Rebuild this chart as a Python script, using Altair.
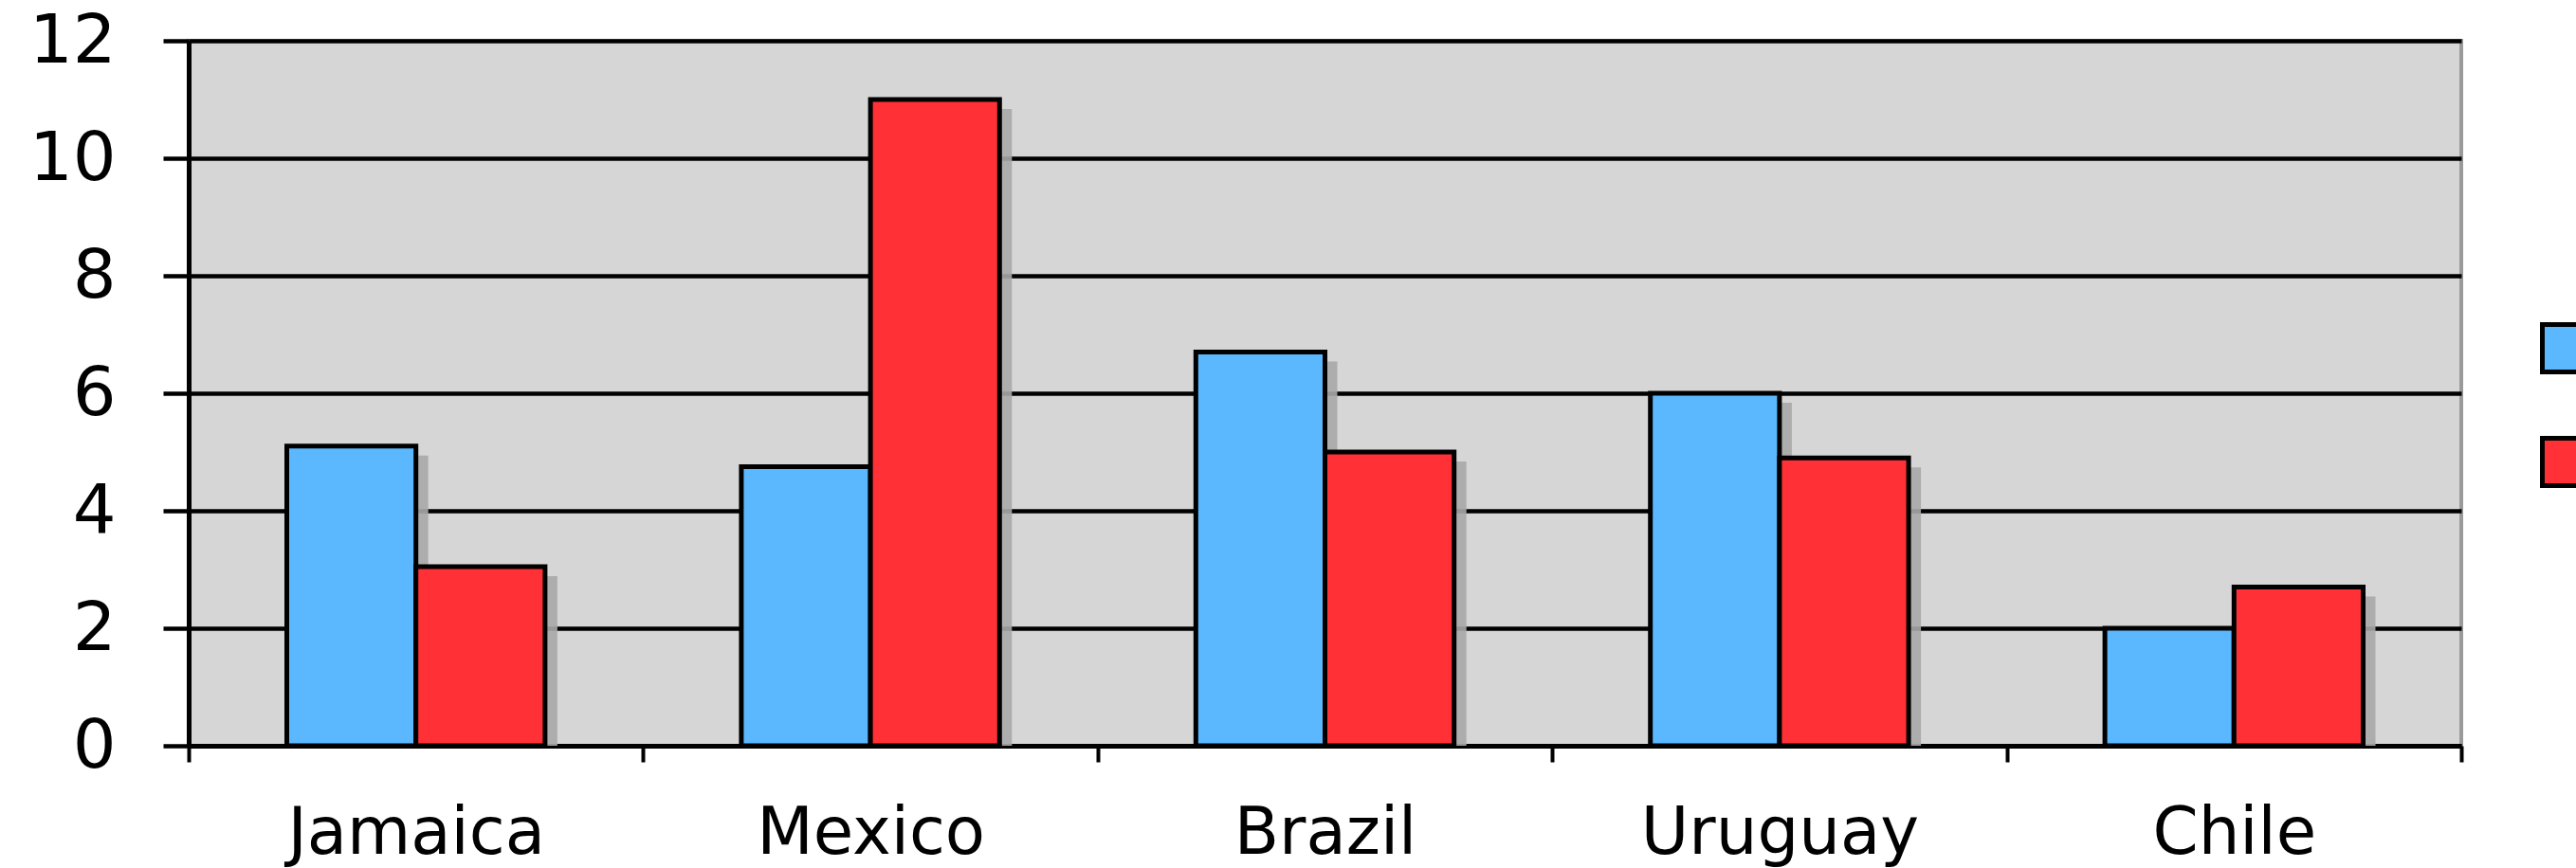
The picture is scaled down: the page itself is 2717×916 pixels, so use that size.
import altair as alt
import pandas as pd

countries = ["Jamaica", "Mexico", "Brazil", "Uruguay", "Chile"]
series_names = ["Series 1", "Series 2"]
series1 = [5.1, 4.75, 6.7, 6.0, 2.0]
series2 = [3.05, 11.0, 5.0, 4.9, 2.7]
colors = ["#5BB8FF", "#FF3136"]
y_ticks = [0, 2, 4, 6, 8, 10, 12]

rows = []
for c, a, b in zip(countries, series1, series2):
    rows.append({"country": c, "series": series_names[0], "value": a})
    rows.append({"country": c, "series": series_names[1], "value": b})
df = pd.DataFrame(rows)

FONT = "DejaVu Sans"
BAND = 2397 / 5

x_enc = alt.X(
    "country:N",
    sort=countries,
    title=None,
    scale=alt.Scale(paddingInner=0, paddingOuter=0),
    axis=alt.Axis(
        labelAngle=0,
        labelFont=FONT,
        labelFontSize=69,
        labelColor="black",
        labelPadding=41,
        labelLimit=0,
        tickBand="extent",
        tickSize=17,
        tickWidth=4,
        tickColor="black",
        domainColor="black",
        domainWidth=5,
        grid=False,
    ),
)
y_enc = alt.Y(
    "value:Q",
    title=None,
    scale=alt.Scale(domain=[0, 12], nice=False),
    axis=alt.Axis(
        values=y_ticks,
        labelFont=FONT,
        labelFontSize=72,
        labelColor="black",
        labelPadding=50,
        labelLimit=0,
        tickSize=27,
        tickWidth=4.5,
        tickColor="black",
        domainColor="black",
        domainWidth=5,
        grid=True,
        gridColor="black",
        gridWidth=4.5,
        gridOpacity=1,
    ),
)

shadow = alt.Chart(df).mark_bar(
    color="#A9A9A9", opacity=0.9, yOffset=10
).encode(
    x=x_enc,
    xOffset=alt.XOffset(
        "series:N",
        sort=series_names,
        scale=alt.Scale(paddingInner=0, paddingOuter=0.76, range=[13, BAND + 13]),
    ),
    y=y_enc,
    y2=alt.datum(0),
)

bars = alt.Chart(df).mark_bar(stroke="black", strokeWidth=5).encode(
    x=x_enc,
    xOffset=alt.XOffset(
        "series:N",
        sort=series_names,
        scale=alt.Scale(paddingInner=0, paddingOuter=0.76),
    ),
    y=y_enc,
    fill=alt.Fill(
        "series:N",
        sort=series_names,
        scale=alt.Scale(domain=series_names, range=colors),
        legend=alt.Legend(
            title=None,
            orient="none",
            legendX=2480,
            legendY=297,
            padding=0,
            symbolType="square",
            symbolSize=2500,
            symbolStrokeColor="black",
            symbolStrokeWidth=5,
            symbolOpacity=1,
            rowPadding=49,
            labelFont=FONT,
            labelFontSize=40,
            labelColor="black",
            labelOffset=20,
        ),
    ),
)

chart = (
    alt.layer(shadow, bars)
    .resolve_scale(xOffset="independent")
    .properties(
        width=2397,
        height=744,
        autosize=alt.AutoSizeParams(type="none"),
        padding={"left": 199, "top": 43, "right": 121, "bottom": 129},
        background="white",
    )
    .configure_view(fill="#D6D6D6", stroke="#9A9A9A", strokeWidth=4)
)

chart.save("out.html", embed_options={"renderer": "svg", "actions": False})
